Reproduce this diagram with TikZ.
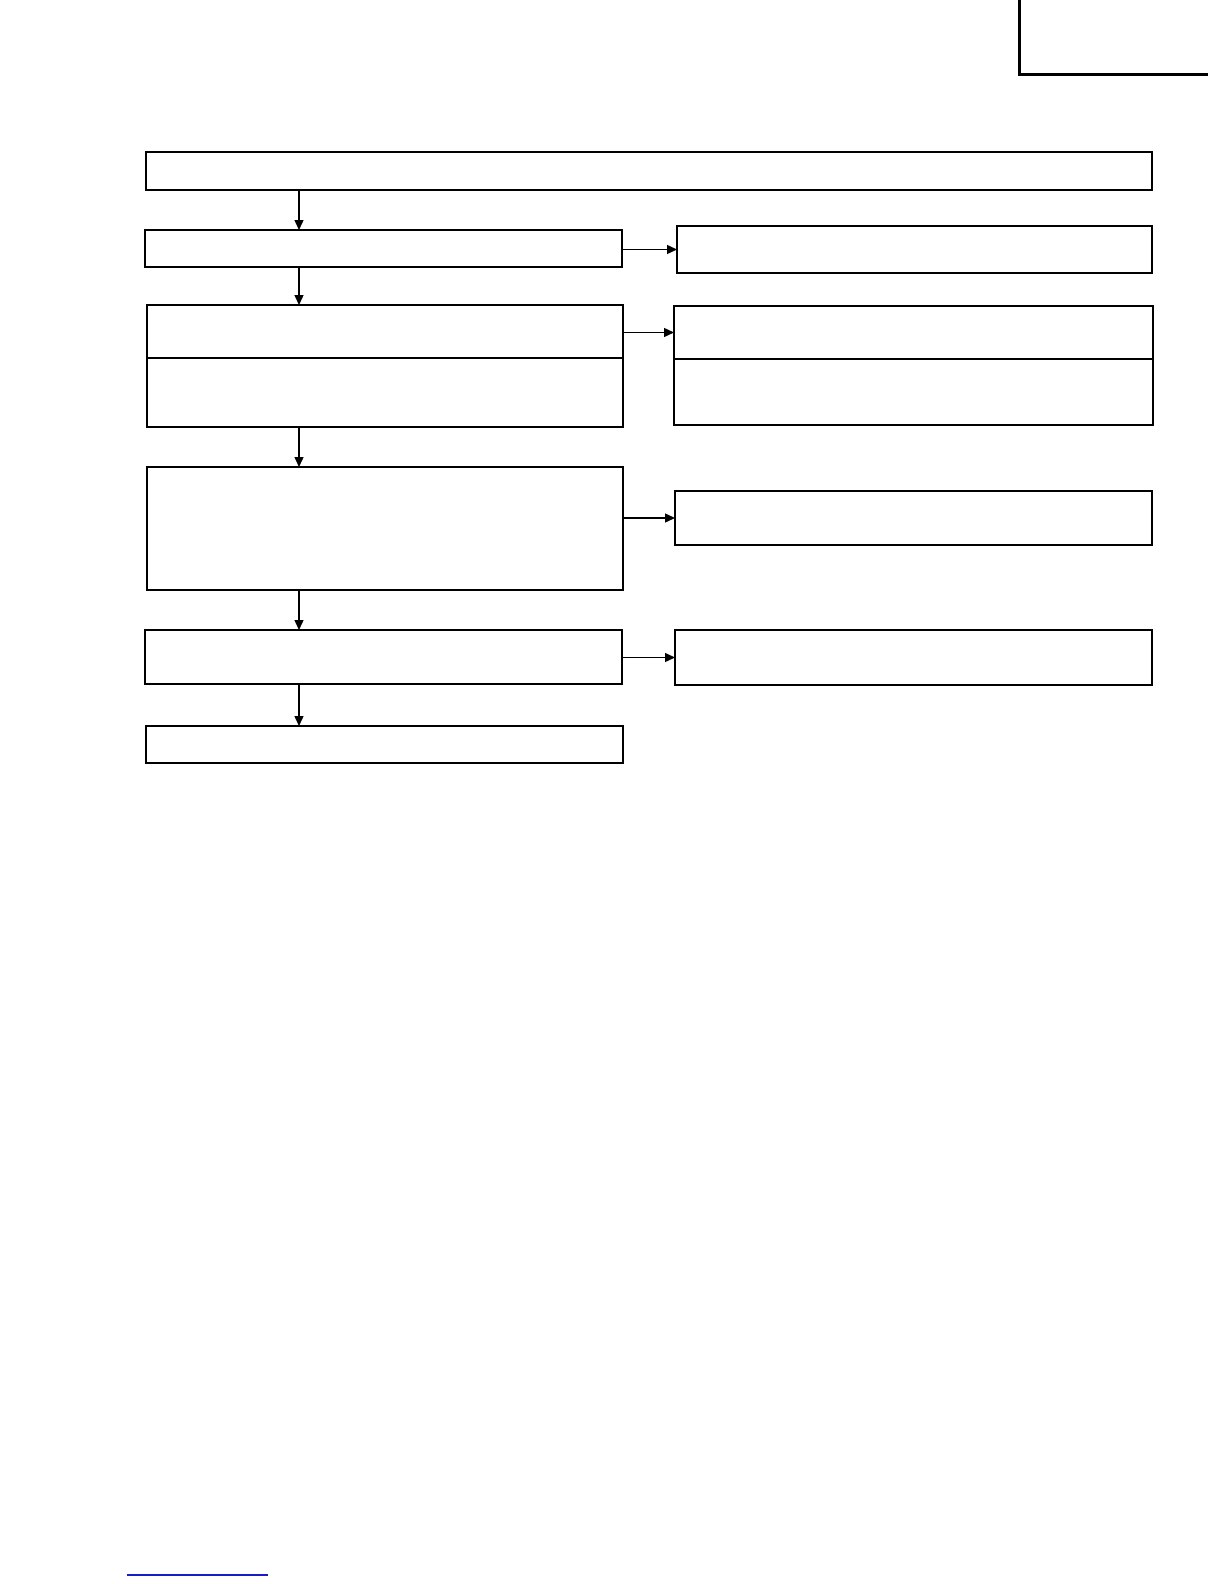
\documentclass[tikz,border=0pt]{standalone}
\usepackage{tikz}
\usetikzlibrary{arrows.meta,positioning}
\definecolor{linkblue}{HTML}{1A1AC8}
\tikzset{
  flowbox/.style={draw,line width=0.7pt,anchor=north west,inner sep=0pt,outer sep=0pt},
  heavybox/.style={flowbox,line width=1.3pt},
  flowarrow/.style={-{Triangle[length=5pt,width=4.5pt]},line width=0.7pt},
}
\begin{document}
\begin{tikzpicture}[x=0.5pt,y=-0.5pt]
\useasboundingbox (0,0) rectangle (1224,1584);
% page corner mark
\draw[line width=1.5pt] (1019,0) -- (1019,75) -- (1208,75);
% left column
\node[heavybox,minimum width=503pt,minimum height=19pt] (top) at (146,152) {};
\node[flowbox,minimum width=238.5pt,minimum height=18.5pt] (a) at (145,230) {};
\node[flowbox,minimum width=238pt,minimum height=26.5pt] (b1) at (147,305) {};
\node[flowbox,minimum width=238pt,minimum height=34.5pt] (b2) at (147,358) {};
\node[flowbox,minimum width=238pt,minimum height=61.5pt] (c) at (147,467) {};
\node[flowbox,minimum width=238.5pt,minimum height=27pt] (d) at (145,630) {};
\node[flowbox,minimum width=238.5pt,minimum height=18.5pt] (e) at (146,726) {};
% right column
\node[flowbox,minimum width=237.5pt,minimum height=23.5pt] (ar) at (677,226) {};
\node[flowbox,minimum width=239.5pt,minimum height=26.5pt] (br1) at (674,306) {};
\node[flowbox,minimum width=239.5pt,minimum height=33pt] (br2) at (674,359) {};
\node[flowbox,minimum width=238.5pt,minimum height=27pt] (cr) at (675,491) {};
\node[flowbox,minimum width=238.5pt,minimum height=27.5pt] (dr) at (675,630) {};
% connectors
\coordinate (spine) at (299,0);
\draw[flowarrow] (top.south -| spine) -- (a.north -| spine);
\draw[flowarrow] (a.south -| spine) -- (b1.north -| spine);
\draw[flowarrow] (b2.south -| spine) -- (c.north -| spine);
\draw[flowarrow] (c.south -| spine) -- (d.north -| spine);
\draw[flowarrow] (d.south -| spine) -- (e.north -| spine);
\draw[flowarrow] (ar.west -| a.east) -- (ar.west);
\draw[flowarrow] (br1.west -| b1.east) -- (br1.west);
\draw[flowarrow] (cr.west -| c.east) -- (cr.west);
\draw[flowarrow] (dr.west -| d.east) -- (dr.west);
% footer rule
\draw[linkblue,line width=0.8pt] (127,1575) -- (268,1575);
\end{tikzpicture}
\end{document}
